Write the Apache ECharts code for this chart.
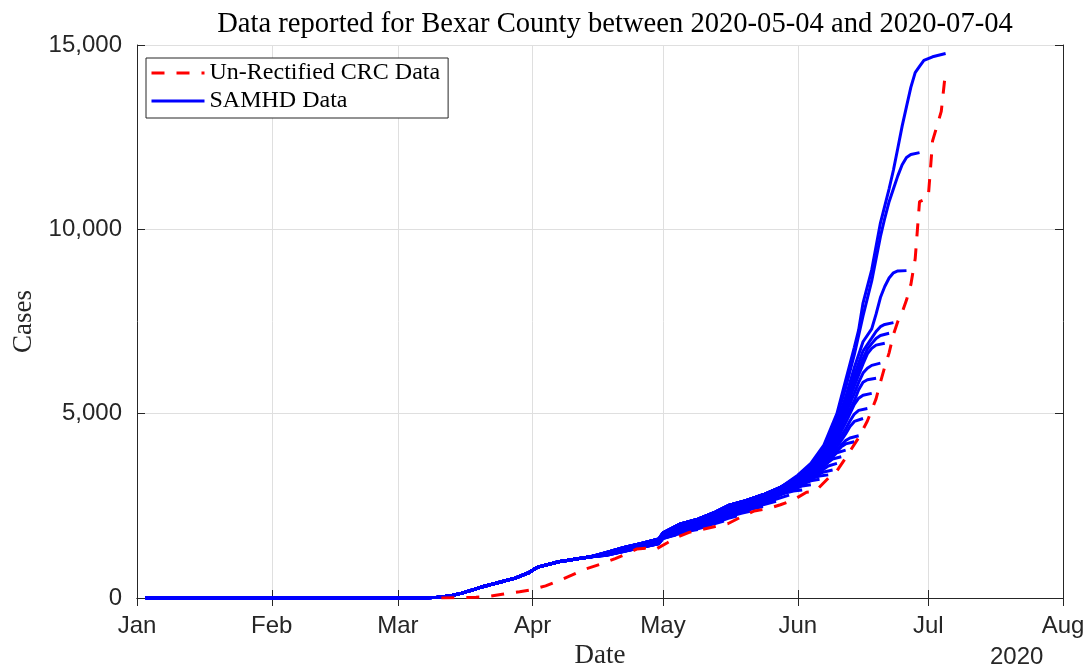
<!DOCTYPE html>
<html><head><meta charset="utf-8">
<script src="https://cdn.jsdelivr.net/npm/echarts@6/dist/echarts.min.js"></script>
<style>html,body{margin:0;padding:0;background:#fff}#c{width:1092px;height:668px}</style>
</head><body><div id="c"></div>
<script>
// ---- axis ticks ----
const monthTicks = ['2020-01-01','2020-02-01','2020-03-01','2020-04-01','2020-05-01','2020-06-01','2020-07-01','2020-08-01'];
const monthLabels = ['Jan','Feb','Mar','Apr','May','Jun','Jul','Aug'];
const yTicks = [0, 5000, 10000, 15000];

// ---- Un-Rectified CRC data ----
const crcData = [['2020-03-11',0],['2020-03-15',5],['2020-03-19',20],['2020-03-22',45],['2020-03-25',100],['2020-03-29',170],['2020-04-01',230],['2020-04-04',330],['2020-04-07',470],['2020-04-10',620],['2020-04-13',780],['2020-04-17',930],['2020-04-20',1070],['2020-04-23',1220],['2020-04-25',1330],['2020-04-27',1350],['2020-04-29',1300],['2020-05-02',1500],['2020-05-04',1640],['2020-05-07',1780],['2020-05-10',1860],['2020-05-13',1940],['2020-05-16',2020],['2020-05-19',2200],['2020-05-22',2360],['2020-05-25',2420],['2020-05-28',2530],['2020-05-31',2660],['2020-06-03',2870],['2020-06-05',2890],['2020-06-08',3250],['2020-06-10',3450],['2020-06-12',3800],['2020-06-15',4350],['2020-06-17',4800],['2020-06-18',5100],['2020-06-19',5400],['2020-06-20',5850],['2020-06-21',6270],['2020-06-22',6650],['2020-06-23',7150],['2020-06-24',7500],['2020-06-25',7750],['2020-06-26',8080],['2020-06-27',8500],['2020-06-28',9200],['2020-06-29',10750],['2020-06-30',10800],['2020-07-01',10850],['2020-07-02',12400],['2020-07-03',12800],['2020-07-04',13200],['2020-07-05',14300]];

// ---- SAMHD data: shared history (identical in every report) ----
const samhdHistory = [['2020-01-03',0],['2020-02-01',0],['2020-03-01',0],['2020-03-08',5],['2020-03-10',20],['2020-03-13',55],['2020-03-16',140],['2020-03-20',290],['2020-03-24',415],['2020-03-28',540],['2020-03-31',680],['2020-04-02',830],['2020-04-07',985],['2020-04-11',1060],['2020-04-14',1110]];

// ---- SAMHD April/May levels for groups of reports ----
const tierA = [['2020-04-18',1235],['2020-04-22',1370],['2020-04-26',1480],['2020-04-30',1600],['2020-05-01',1770],['2020-05-05',2010],['2020-05-09',2140],['2020-05-13',2330],['2020-05-16',2510],['2020-05-20',2640],['2020-05-24',2800],['2020-05-28',3000]];
const tierB = [['2020-04-18',1210],['2020-04-22',1330],['2020-04-26',1440],['2020-04-30',1560],['2020-05-01',1720],['2020-05-05',1940],['2020-05-09',2070],['2020-05-13',2240],['2020-05-16',2420],['2020-05-20',2560],['2020-05-24',2720],['2020-05-28',2900]];
const tierC = [['2020-04-18',1190],['2020-04-22',1300],['2020-04-26',1410],['2020-04-30',1520],['2020-05-01',1680],['2020-05-05',1870],['2020-05-09',1990],['2020-05-13',2150],['2020-05-16',2320],['2020-05-20',2470],['2020-05-24',2630],['2020-05-28',2810]];

// ---- SAMHD report tails (June) ----
const r0705 = [['2020-06-01',3330],['2020-06-04',3650],['2020-06-07',4150],['2020-06-10',5000],['2020-06-12',5900],['2020-06-14',6800],['2020-06-15',7270],['2020-06-16',8000],['2020-06-18',8900],['2020-06-20',10170],['2020-06-22',11100],['2020-06-23',11610],['2020-06-24',12200],['2020-06-25',12800],['2020-06-26',13330],['2020-06-27',13850],['2020-06-28',14250],['2020-06-29',14420],['2020-06-30',14580],['2020-07-02',14680],['2020-07-05',14770]];
const r0629 = [['2020-06-01',3300],['2020-06-04',3600],['2020-06-07',4080],['2020-06-10',4900],['2020-06-12',5700],['2020-06-14',6600],['2020-06-16',7650],['2020-06-18',8600],['2020-06-20',9800],['2020-06-21',10300],['2020-06-22',10750],['2020-06-23',11100],['2020-06-24',11450],['2020-06-25',11750],['2020-06-26',11950],['2020-06-27',12030],['2020-06-29',12080]];
const r0626 = [['2020-06-01',3280],['2020-06-04',3570],['2020-06-07',4000],['2020-06-10',4750],['2020-06-12',5450],['2020-06-14',6250],['2020-06-16',6950],['2020-06-18',7300],['2020-06-19',7700],['2020-06-20',8150],['2020-06-21',8450],['2020-06-22',8680],['2020-06-23',8820],['2020-06-24',8870],['2020-06-26',8880]];
const r0623 = [['2020-06-01',3260],['2020-06-04',3540],['2020-06-07',3950],['2020-06-10',4650],['2020-06-12',5300],['2020-06-14',6050],['2020-06-16',6700],['2020-06-18',7050],['2020-06-19',7230],['2020-06-20',7360],['2020-06-21',7420],['2020-06-23',7470]];
const r0622 = [['2020-06-01',3250],['2020-06-04',3520],['2020-06-07',3900],['2020-06-10',4580],['2020-06-12',5200],['2020-06-14',5900],['2020-06-16',6500],['2020-06-17',6750],['2020-06-18',6900],['2020-06-19',7040],['2020-06-20',7120],['2020-06-22',7180]];
const r0621 = [['2020-06-01',3240],['2020-06-04',3500],['2020-06-07',3870],['2020-06-10',4520],['2020-06-12',5100],['2020-06-14',5750],['2020-06-16',6350],['2020-06-17',6620],['2020-06-18',6770],['2020-06-19',6860],['2020-06-21',6910]];
const r0620 = [['2020-06-01',3230],['2020-06-04',3480],['2020-06-07',3830],['2020-06-10',4450],['2020-06-12',5000],['2020-06-14',5550],['2020-06-15',5850],['2020-06-16',6100],['2020-06-17',6230],['2020-06-18',6310],['2020-06-20',6370]];
const r0619 = [['2020-06-01',3220],['2020-06-04',3460],['2020-06-07',3800],['2020-06-10',4380],['2020-06-12',4900],['2020-06-14',5350],['2020-06-15',5650],['2020-06-16',5850],['2020-06-17',5920],['2020-06-19',5960]];
const r0618 = [['2020-06-01',3200],['2020-06-04',3440],['2020-06-07',3760],['2020-06-10',4300],['2020-06-12',4750],['2020-06-13',5000],['2020-06-14',5250],['2020-06-15',5420],['2020-06-16',5500],['2020-06-18',5550]];
const r0617 = [['2020-06-01',3180],['2020-06-04',3420],['2020-06-07',3720],['2020-06-10',4200],['2020-06-12',4580],['2020-06-13',4800],['2020-06-14',4990],['2020-06-15',5090],['2020-06-17',5140]];
const r0616 = [['2020-06-01',3160],['2020-06-04',3400],['2020-06-07',3680],['2020-06-10',4100],['2020-06-12',4450],['2020-06-13',4650],['2020-06-14',4790],['2020-06-16',4870]];
const r0615 = [['2020-06-01',3150],['2020-06-04',3380],['2020-06-07',3650],['2020-06-10',4000],['2020-06-11',4150],['2020-06-12',4270],['2020-06-13',4340],['2020-06-15',4400]];
const r0614 = [['2020-06-01',3140],['2020-06-04',3360],['2020-06-07',3620],['2020-06-09',3850],['2020-06-10',3980],['2020-06-11',4100],['2020-06-12',4180],['2020-06-14',4240]];
const r0612 = [['2020-06-01',3120],['2020-06-04',3340],['2020-06-07',3580],['2020-06-08',3700],['2020-06-09',3830],['2020-06-10',3940],['2020-06-12',4010]];
const r0611 = [['2020-06-01',3100],['2020-06-04',3310],['2020-06-06',3480],['2020-06-07',3580],['2020-06-08',3680],['2020-06-09',3770],['2020-06-11',3830]];
const r0610 = [['2020-06-01',3080],['2020-06-04',3280],['2020-06-06',3420],['2020-06-07',3500],['2020-06-08',3580],['2020-06-10',3650]];
const r0609 = [['2020-06-01',3060],['2020-06-04',3250],['2020-06-06',3370],['2020-06-07',3420],['2020-06-09',3470]];
const r0608 = [['2020-06-01',3040],['2020-06-03',3170],['2020-06-05',3270],['2020-06-06',3310],['2020-06-08',3340]];
const r0606 = [['2020-06-01',3020],['2020-06-03',3130],['2020-06-04',3180],['2020-06-06',3220]];
const r0604 = [['2020-06-01',2990],['2020-06-02',3040],['2020-06-04',3070]];
const r0602 = [['2020-05-31',2900],['2020-06-02',2930]];

// ---- SAMHD May reports (own April/May values) ----
const r0530 = [['2020-04-18',1180],['2020-04-22',1290],['2020-04-26',1400],['2020-04-30',1500],['2020-05-01',1660],['2020-05-05',1850],['2020-05-09',1960],['2020-05-13',2100],['2020-05-16',2260],['2020-05-20',2410],['2020-05-24',2570],['2020-05-28',2720],['2020-05-30',2790]];
const r0527 = [['2020-04-18',1180],['2020-04-22',1290],['2020-04-26',1390],['2020-04-30',1500],['2020-05-01',1650],['2020-05-05',1840],['2020-05-09',1950],['2020-05-13',2080],['2020-05-16',2240],['2020-05-20',2390],['2020-05-24',2530],['2020-05-27',2620]];
const r0524 = [['2020-04-18',1170],['2020-04-22',1280],['2020-04-26',1390],['2020-04-30',1490],['2020-05-01',1650],['2020-05-05',1830],['2020-05-09',1930],['2020-05-13',2070],['2020-05-16',2220],['2020-05-20',2360],['2020-05-22',2430],['2020-05-24',2480]];
const r0521 = [['2020-04-18',1170],['2020-04-22',1280],['2020-04-26',1380],['2020-04-30',1490],['2020-05-01',1640],['2020-05-05',1810],['2020-05-09',1920],['2020-05-13',2060],['2020-05-16',2200],['2020-05-19',2300],['2020-05-21',2350]];
const r0518 = [['2020-04-18',1170],['2020-04-22',1280],['2020-04-26',1380],['2020-04-30',1490],['2020-05-01',1640],['2020-05-05',1800],['2020-05-09',1910],['2020-05-13',2040],['2020-05-16',2160],['2020-05-18',2220]];
const r0515 = [['2020-04-18',1170],['2020-04-22',1280],['2020-04-26',1380],['2020-04-30',1480],['2020-05-01',1630],['2020-05-05',1790],['2020-05-09',1900],['2020-05-13',2020],['2020-05-15',2090]];
const r0512 = [['2020-04-18',1170],['2020-04-22',1270],['2020-04-26',1380],['2020-04-30',1480],['2020-05-01',1630],['2020-05-05',1780],['2020-05-09',1880],['2020-05-12',1970]];
const r0509 = [['2020-04-18',1160],['2020-04-22',1270],['2020-04-26',1370],['2020-04-30',1480],['2020-05-01',1620],['2020-05-05',1770],['2020-05-07',1820],['2020-05-09',1860]];
const r0506 = [['2020-04-18',1160],['2020-04-22',1270],['2020-04-26',1370],['2020-04-30',1470],['2020-05-01',1620],['2020-05-04',1720],['2020-05-06',1770]];
const r0504 = [['2020-04-18',1160],['2020-04-22',1260],['2020-04-26',1370],['2020-04-30',1470],['2020-05-01',1610],['2020-05-03',1680],['2020-05-04',1710]];

const samhdReports = [
  samhdHistory.concat(r0504), samhdHistory.concat(r0506), samhdHistory.concat(r0509),
  samhdHistory.concat(r0512), samhdHistory.concat(r0515), samhdHistory.concat(r0518),
  samhdHistory.concat(r0521), samhdHistory.concat(r0524), samhdHistory.concat(r0527),
  samhdHistory.concat(r0530),
  samhdHistory.concat(tierC, r0602), samhdHistory.concat(tierC, r0604), samhdHistory.concat(tierC, r0606),
  samhdHistory.concat(tierC, r0608), samhdHistory.concat(tierC, r0609), samhdHistory.concat(tierC, r0610),
  samhdHistory.concat(tierC, r0611), samhdHistory.concat(tierC, r0612),
  samhdHistory.concat(tierB, r0614), samhdHistory.concat(tierB, r0615), samhdHistory.concat(tierB, r0616),
  samhdHistory.concat(tierB, r0617), samhdHistory.concat(tierB, r0618), samhdHistory.concat(tierB, r0619),
  samhdHistory.concat(tierB, r0620),
  samhdHistory.concat(tierA, r0621), samhdHistory.concat(tierA, r0622), samhdHistory.concat(tierA, r0623),
  samhdHistory.concat(tierA, r0626), samhdHistory.concat(tierA, r0629), samhdHistory.concat(tierA, r0705)
];

// date string -> timestamp (UTC midnight)
const ts = s => Date.parse(s + 'T00:00:00Z');
const toXY = arr => arr.map(p => [ts(p[0]), p[1]]);
const tickTs = monthTicks.map(ts);

const AX = '#262626';
const SERIF = '"Liberation Serif", "DejaVu Serif", serif';
const SANS = '"Liberation Sans", Arial, Helvetica, sans-serif';

const series = samhdReports.map(d => ({
  name: 'SAMHD Data', type: 'line', data: toXY(d), symbol: 'none', showSymbol: false,
  lineStyle: { color: '#0000ff', width: 3 }, itemStyle: { color: '#0000ff' }, z: 2
}));
series.push({
  name: 'Un-Rectified CRC Data', type: 'line', data: toXY(crcData), symbol: 'none', showSymbol: false,
  lineStyle: { color: '#ff0000', width: 3, type: [13, 12] }, itemStyle: { color: '#ff0000' }, z: 3
});

const chart = echarts.init(document.getElementById('c'), null, { renderer: 'canvas' });
chart.setOption({
  animation: false,
  backgroundColor: '#fff',
  title: {
    text: 'Data reported for Bexar County between 2020-05-04 and 2020-07-04',
    left: 610, top: 5, textAlign: 'center',
    textStyle: { fontFamily: SERIF, fontWeight: 'normal', fontSize: 28.6, color: '#000' }
  },
  grid: { left: 137, right: 29, top: 45, bottom: 70, containLabel: false, outerBoundsMode: 'none' },
  legend: {
    data: ['Un-Rectified CRC Data', 'SAMHD Data'],
    orient: 'vertical', left: 146, top: 58,
    backgroundColor: '#fff', borderColor: AX, borderWidth: 1, borderRadius: 0,
    padding: [3, 8, 5, 4], itemGap: 4, itemWidth: 53, itemHeight: 20,
    itemStyle: { opacity: 0 },
    lineStyle: { width: 3 },
    textStyle: { fontFamily: SERIF, fontSize: 24, color: '#000' }
  },
  xAxis: [{
    type: 'value', min: tickTs[0], max: tickTs[tickTs.length - 1], position: 'bottom',
    name: 'Date', nameLocation: 'middle', nameGap: 44,
    nameTextStyle: { fontFamily: SERIF, fontSize: 27, color: '#262626' },
    axisLine: { show: true, lineStyle: { color: AX, width: 1 } },
    axisTick: { show: true, inside: true, length: 8, customValues: tickTs, lineStyle: { color: AX } },
    axisLabel: {
      customValues: tickTs, margin: 16, fontFamily: SANS, fontSize: 24, color: AX,
      showMinLabel: true, showMaxLabel: true,
      formatter: v => monthLabels[tickTs.indexOf(v)] || ''
    },
    splitLine: { show: true, lineStyle: { color: '#dfdfdf', width: 1 } }
  }, {
    type: 'value', min: tickTs[0], max: tickTs[tickTs.length - 1], position: 'top',
    axisLine: { show: true, lineStyle: { color: AX, width: 1 } },
    axisTick: { show: true, inside: true, length: 8, customValues: tickTs, lineStyle: { color: AX } },
    axisLabel: { show: false }, splitLine: { show: false }
  }],
  yAxis: [{
    type: 'value', min: yTicks[0], max: yTicks[yTicks.length - 1], interval: 5000, position: 'left',
    name: 'Cases', nameLocation: 'middle', nameGap: 100,
    nameTextStyle: { fontFamily: SERIF, fontSize: 27, color: '#262626' },
    axisLine: { show: true, lineStyle: { color: AX, width: 1 } },
    axisTick: { show: true, inside: true, length: 8, lineStyle: { color: AX } },
    axisLabel: { margin: 15, fontFamily: SANS, fontSize: 24, color: AX,
      formatter: v => v.toLocaleString('en-US') },
    splitLine: { show: true, lineStyle: { color: '#dfdfdf', width: 1 } }
  }, {
    type: 'value', min: yTicks[0], max: yTicks[yTicks.length - 1], interval: 5000, position: 'right',
    axisLine: { show: true, lineStyle: { color: AX, width: 1 } },
    axisTick: { show: true, inside: true, length: 8, lineStyle: { color: AX } },
    axisLabel: { show: false }, splitLine: { show: false }
  }],
  graphic: [{
    type: 'text', left: 990, top: 645,
    style: { text: '2020', fontFamily: SANS, fontSize: 24, fill: AX }
  }],
  series: series
});
</script>
</body></html>
